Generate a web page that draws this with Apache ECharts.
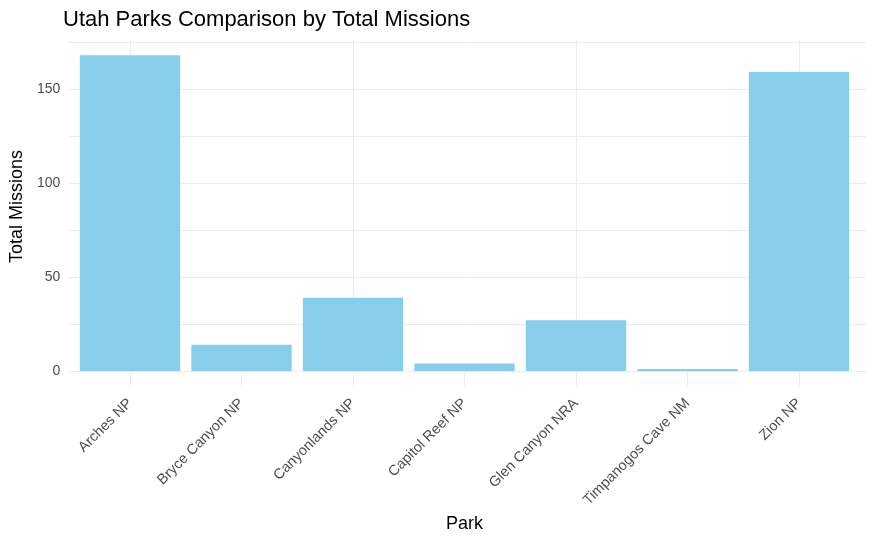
<!DOCTYPE html>
<html>
<head>
<meta charset="utf-8">
<script src="https://cdn.jsdelivr.net/npm/echarts@6/dist/echarts.min.js"></script>
<style>html,body{margin:0;padding:0;background:#fff}#c{width:875px;height:540px}</style>
</head>
<body>
<div id="c"></div>
<script>
const parks = ['Arches NP','Bryce Canyon NP','Canyonlands NP','Capitol Reef NP','Glen Canyon NRA','Timpanogos Cave NM','Zion NP'];
const missions = [168, 14, 39, 4, 27, 1, 159];
const yTicks = [0, 50, 100, 150];

const FONT = '"Liberation Sans", Arial, sans-serif';
const GRID = '#ebebeb';
const chart = echarts.init(document.getElementById('c'), null, {renderer: 'canvas'});
chart.setOption({
  animation: false,
  backgroundColor: '#fff',
  title: {
    text: 'Utah Parks Comparison by Total Missions',
    left: 58, top: 4,
    textStyle: {fontFamily: FONT, fontSize: 22, fontWeight: 'normal', color: '#000'}
  },
  grid: [
    {left: 74.25, width: 780.5, top: 39.4, height: 331.6},
    {left: 63, width: 803, top: 42, height: 329}
  ],
  xAxis: [
    {
      type: 'category', gridIndex: 0, data: parks, position: 'bottom',
      axisLine: {show: false},
      axisTick: {show: true, alignWithLabel: true, length: 16, lineStyle: {color: GRID, width: 1}},
      splitLine: {show: false},
      axisLabel: {rotate: 45, margin: 30, fontFamily: FONT, fontSize: 14.5, color: '#4d4d4d', interval: 0},
      name: 'Park', nameLocation: 'middle', nameGap: 142,
      nameTextStyle: {fontFamily: FONT, fontSize: 18, color: '#000'}
    },
    {
      type: 'category', gridIndex: 0, data: parks, position: 'top',
      axisLine: {show: false},
      axisTick: {show: true, inside: true, alignWithLabel: true, length: 332, lineStyle: {color: GRID, width: 1}},
      axisLabel: {show: false},
      splitLine: {show: false}
    },
    {type: 'value', gridIndex: 1, min: 0, max: 1, show: false}
  ],
  yAxis: [
    {type: 'value', gridIndex: 0, min: 0, max: 176.4, show: false, splitLine: {show: false}},
    {
      type: 'value', gridIndex: 1, min: 0, max: 175, interval: 25,
      axisLine: {show: false}, axisTick: {show: false},
      splitLine: {show: true, lineStyle: {color: GRID, width: 1}},
      axisLabel: {
        margin: 9, fontFamily: FONT, fontSize: 14, color: '#4d4d4d',
        formatter: v => yTicks.includes(v) ? String(v) : ''
      },
      name: 'Total Missions', nameLocation: 'middle', nameGap: 36, nameRotate: 90,
      nameTextStyle: {fontFamily: FONT, fontSize: 18, color: '#000'}
    }
  ],
  series: [{
    type: 'bar', xAxisIndex: 0, yAxisIndex: 0, data: missions,
    barCategoryGap: '10%', z: 5,
    itemStyle: {color: '#87CEEB'}
  }]
});
</script>
</body>
</html>
